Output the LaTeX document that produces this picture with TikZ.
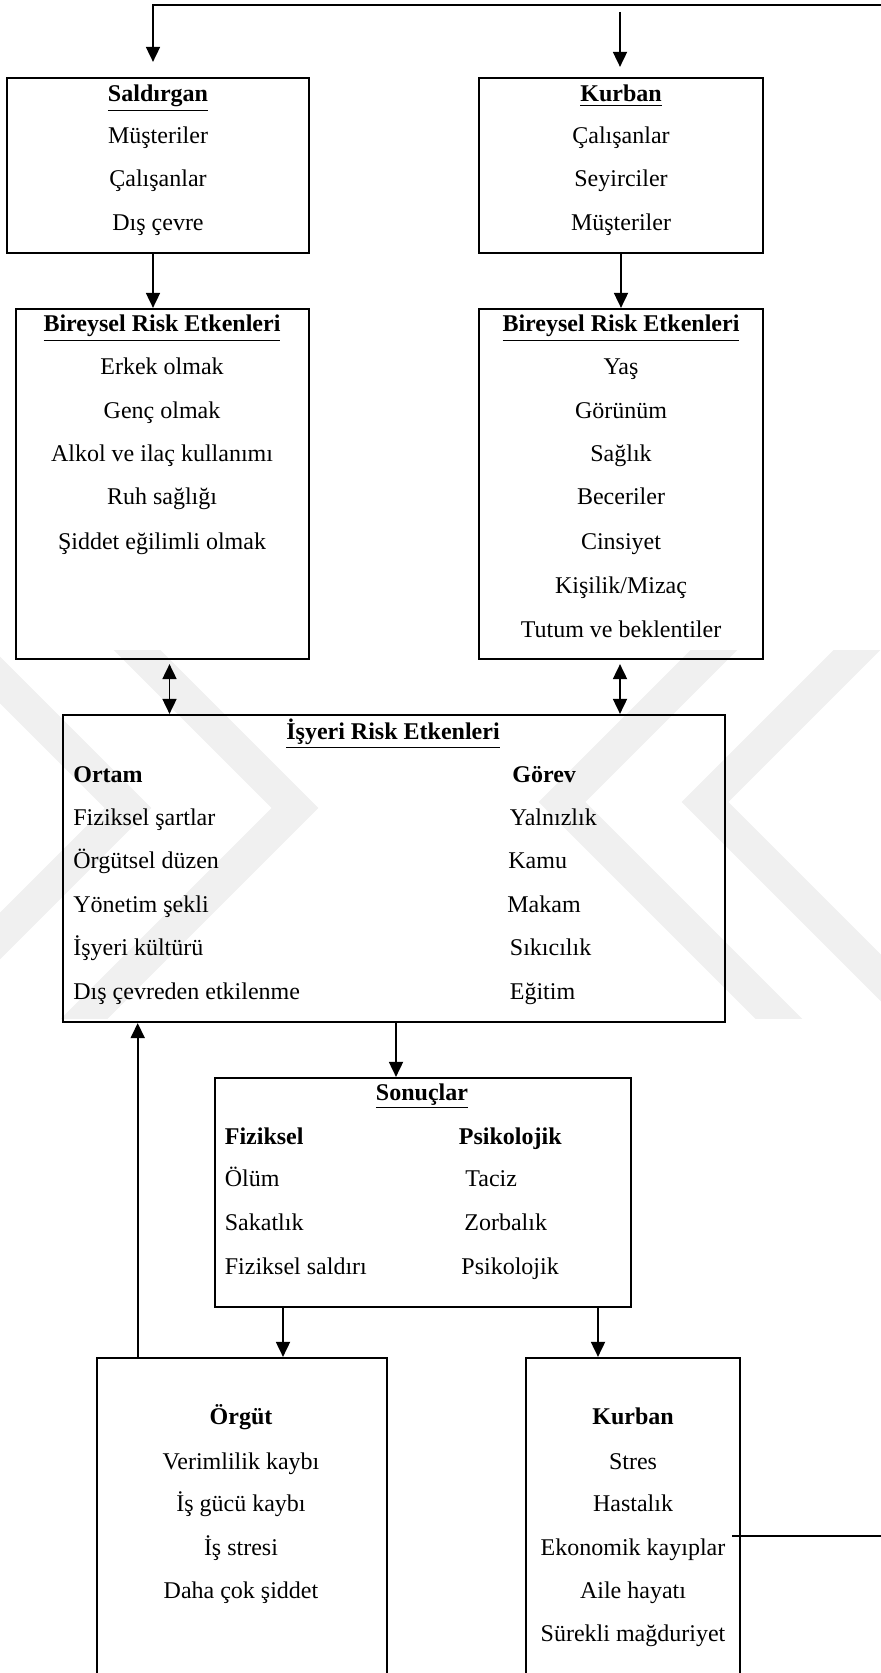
\documentclass[tikz,border=0pt]{standalone}
\usepackage{fontspec}
\setmainfont{Liberation Serif}
\usetikzlibrary{arrows.meta}
\tikzset{
  box/.style={draw, line width=1.1pt, rectangle, inner sep=0pt},
  txt/.style={inner sep=0pt, anchor=base, font=\fontsize{12pt}{14pt}\selectfont},
  ltxt/.style={txt, anchor=base west},
  conn/.style={line width=0.9pt},
  arr/.style={conn, -{Triangle[length=7.5pt,width=7pt]}},
  darr/.style={conn, {Triangle[length=7.5pt,width=7pt]}-{Triangle[length=7.5pt,width=7pt]}},
  wm/.style={draw=black!6, line width=16.5pt, line join=miter, line cap=butt}
}
\newcommand{\ttl}[1]{\underline{\textbf{#1}}}
\begin{document}
\begin{tikzpicture}[x=0.5pt,y=-0.5pt]
\useasboundingbox (0,0) rectangle (880,1673);
% watermark
\begin{scope}
\clip (-50,650) rectangle (930,1018);
\draw[wm] (87,600) -- (295,808) -- (35,1068);
\draw[wm] (-80,600) -- (128,808) -- (-132,1068);
\draw[wm] (907,600) -- (705,802) -- (971,1068);
\draw[wm] (764,600) -- (562,802) -- (828,1068);
\end{scope}
% boxes
\node[box, minimum width=151pt, minimum height=87.5pt] (sald) at (158,165.5) {};
\node[box, minimum width=142pt, minimum height=87.5pt] (kurb) at (621,165.5) {};
\node[box, minimum width=146.5pt, minimum height=175pt] (bir1) at (162.5,484) {};
\node[box, minimum width=142pt, minimum height=175pt] (bir2) at (621,484) {};
\node[box, minimum width=331pt, minimum height=153.5pt] (isy) at (394,868.5) {};
\node[box, minimum width=208pt, minimum height=114.5pt] (son) at (423,1192.5) {};
\node[box, minimum width=145.25pt, minimum height=181pt] (org) at (242,1539) {};
\node[box, minimum width=107pt, minimum height=181pt] (kv) at (633,1539) {};
% texts: Saldirgan
\node[txt] (s0) at (158,102) {\ttl{Saldırgan}};
\node[txt] (s1) at (158,144) {Müşteriler};
\node[txt] (s2) at (158,187) {Çalışanlar};
\node[txt] (s3) at (158,231) {Dış çevre};
% Kurban
\node[txt] (k0) at (621,102) {\ttl{Kurban}};
\node[txt] (k1) at (621,144) {Çalışanlar};
\node[txt] (k2) at (621,187) {Seyirciler};
\node[txt] (k3) at (621,231) {Müşteriler};
% Bireysel 1
\node[txt] (b10) at (162,332) {\ttl{Bireysel Risk Etkenleri}};
\node[txt] (b11) at (162,375) {Erkek olmak};
\node[txt] (b12) at (162,419) {Genç olmak};
\node[txt] (b13) at (162,462) {Alkol ve ilaç kullanımı};
\node[txt] (b14) at (162,505) {Ruh sağlığı};
\node[txt] (b15) at (162,550) {Şiddet eğilimli olmak};
% Bireysel 2
\node[txt] (b20) at (621,332) {\ttl{Bireysel Risk Etkenleri}};
\node[txt] (b21) at (621,375) {Yaş};
\node[txt] (b22) at (621,419) {Görünüm};
\node[txt] (b23) at (621,462) {Sağlık};
\node[txt] (b24) at (621,505) {Beceriler};
\node[txt] (b25) at (621,550) {Cinsiyet};
\node[txt] (b26) at (621,593) {Kişilik/Mizaç};
\node[txt] (b27) at (621,637) {Tutum ve beklentiler};
% Isyeri
\node[txt] (i0) at (393,739) {\ttl{İşyeri Risk Etkenleri}};
\node[ltxt] (i1) at (73,782) {\textbf{Ortam}};
\node[ltxt] (i2) at (73,825) {Fiziksel şartlar};
\node[ltxt] (i3) at (73,868) {Örgütsel düzen};
\node[ltxt] (i4) at (73,912) {Yönetim şekli};
\node[ltxt] (i5) at (73,955) {İşyeri kültürü};
\node[ltxt] (i6) at (73,999) {Dış çevreden etkilenme};
\node[ltxt] (j1) at (512,782) {\textbf{Görev}};
\node[ltxt] (j2) at (509.5,825) {Yalnızlık};
\node[ltxt] (j3) at (508,868) {Kamu};
\node[ltxt] (j4) at (507,912) {Makam};
\node[ltxt] (j5) at (509.5,955) {Sıkıcılık};
\node[ltxt] (j6) at (509.5,999) {Eğitim};
% Sonuclar
\node[txt] (n0) at (422,1100) {\ttl{Sonuçlar}};
\node[ltxt] (n1) at (224.5,1144) {\textbf{Fiziksel}};
\node[ltxt] (n2) at (224.5,1186) {Ölüm};
\node[ltxt] (n3) at (224.5,1230) {Sakatlık};
\node[ltxt] (n4) at (224.5,1274) {Fiziksel saldırı};
\node[ltxt] (m1) at (458.5,1144) {\textbf{Psikolojik}};
\node[ltxt] (m2) at (465,1186) {Taciz};
\node[ltxt] (m3) at (464,1230) {Zorbalık};
\node[ltxt] (m4) at (461,1274) {Psikolojik};
% Orgut
\node[txt] (o0) at (241,1424) {\textbf{Örgüt}};
\node[txt] (o1) at (241,1469) {Verimlilik kaybı};
\node[txt] (o2) at (241,1511) {İş gücü kaybı};
\node[txt] (o3) at (241,1555) {İş stresi};
\node[txt] (o4) at (241,1598) {Daha çok şiddet};
% Kurban (victim)
\node[txt] (v0) at (633,1424) {\textbf{Kurban}};
\node[txt] (v1) at (633,1469) {Stres};
\node[txt] (v2) at (633,1511) {Hastalık};
\node[txt] (v3) at (633,1555) {Ekonomik kayıplar};
\node[txt] (v4) at (633,1598) {Aile hayatı};
\node[txt] (v5) at (633,1641) {Sürekli mağduriyet};
% helper coordinates
\coordinate (ax) at (153,0);
\coordinate (bx) at (169.5,0);
\coordinate (cx) at (396,0);
\coordinate (dx) at (283,0);
\coordinate (ex) at (598,0);
\coordinate (fx) at (137.7,0);
\coordinate (gx) at (620,0);
\coordinate (rtop) at (620,12);
\coordinate (kvout) at (732,1536);
\coordinate (far) at (910,5);
% connectors
\draw[arr, shorten >=7.5pt] (kvout) -| (far) -| (sald.north -| ax);
\draw[arr, shorten >=5pt] (rtop) -- (kurb.north -| gx);
\draw[arr] (sald.south -| ax) -- (bir1.north -| ax);
\draw[arr] (kurb.south) -- (bir2.north);
\draw[darr, shorten <=2pt] (bir1.south -| bx) -- (isy.north -| bx);
\draw[darr, shorten <=2pt] (bir2.south -| gx) -- (isy.north -| gx);
\draw[arr] (isy.south -| cx) -- (son.north -| cx);
\draw[arr] (son.south -| dx) -- (org.north -| dx);
\draw[arr] (son.south -| ex) -- (kv.north -| ex);
\draw[arr] (org.north -| fx) -- (isy.south -| fx);
\end{tikzpicture}
\end{document}
